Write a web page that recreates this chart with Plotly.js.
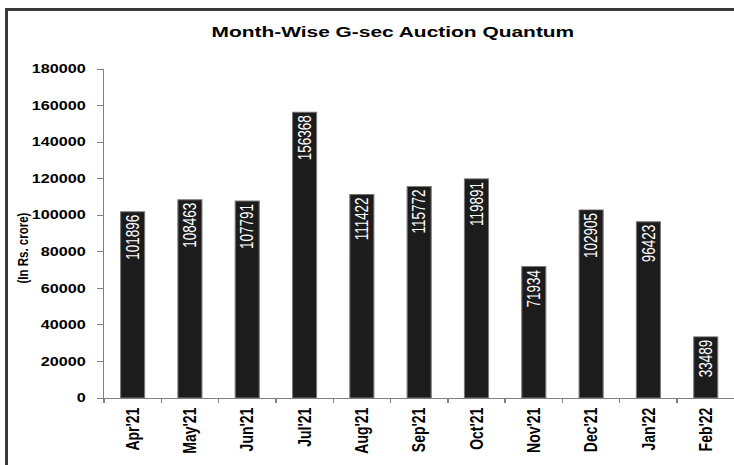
<!DOCTYPE html>
<html>
<head>
<meta charset="utf-8">
<script src="https://cdn.plot.ly/plotly-3.0.1.min.js"></script>
<style>
  html, body { margin: 0; padding: 0; background: #fff; overflow: hidden; width: 734px; height: 465px; }
  #frame { position: absolute; left: 5px; top: 8px; width: 800px; height: 520px;
           border-left: 3px solid #3a3a3a; border-top: 3px solid #3a3a3a; box-sizing: border-box; }
  #chart { position: absolute; left: 0; top: 0; width: 544px; height: 465px;
           transform: scaleX(1.35); transform-origin: 0 0; }
</style>
</head>
<body>
<div id="frame"></div>
<div id="chart"></div>
<script>
const months = ["Apr'21", "May'21", "Jun'21", "Jul'21", "Aug'21", "Sep'21", "Oct'21", "Nov'21", "Dec'21", "Jan'22", "Feb'22"];
const quantum = [101896, 108463, 107791, 156368, 111422, 115772, 119891, 71934, 102905, 96423, 33489];
const yTicks = [0, 20000, 40000, 60000, 80000, 100000, 120000, 140000, 160000, 180000];
const chartTitle = "Month-Wise G-sec Auction Quantum";
const yTitle = "(In Rs. crore)";

const FONT = "Liberation Sans, Arial, sans-serif";

const trace = {
  type: 'bar',
  x: months,
  y: quantum,
  text: quantum.map(String),
  textposition: 'inside',
  insidetextanchor: 'end',
  textangle: -90,
  constraintext: 'none',
  textfont: { family: FONT, size: 13.5, color: '#ffffff' },
  marker: { color: '#1c1c1c', line: { color: '#7a7a7a', width: 0.8 } },
  hoverinfo: 'skip'
};

const layout = {
  width: 544,
  height: 465,
  margin: { l: 77, r: 0, t: 69, b: 67, pad: 0 },
  paper_bgcolor: 'rgba(0,0,0,0)',
  plot_bgcolor: 'rgba(0,0,0,0)',
  showlegend: false,
  bargap: 0.58,
  font: { family: FONT, color: '#000' },
  title: {
    text: chartTitle,
    font: { family: FONT, size: 15.5, weight: 'bold', color: '#000' },
    x: 291 / 544, xref: 'container', xanchor: 'center',
    y: 1 - 32 / 465, yref: 'container', yanchor: 'middle'
  },
  xaxis: {
    type: 'category',
    showgrid: false,
    zeroline: false,
    showline: true,
    linecolor: '#808080',
    linewidth: 1,
    ticks: 'outside',
    tickson: 'boundaries',
    ticklen: 4,
    tickcolor: '#808080',
    tickangle: -90,
    ticklabelstandoff: 3,
    tickfont: { family: FONT, size: 14, weight: 'bold', color: '#000' },
    fixedrange: true
  },
  yaxis: {
    range: [0, 180000],
    tickvals: yTicks,
    ticktext: yTicks.map(String),
    showgrid: false,
    zeroline: false,
    showline: true,
    linecolor: '#808080',
    linewidth: 1,
    ticks: 'outside',
    ticklen: 4,
    tickcolor: '#808080',
    ticklabelstandoff: 6,
    tickfont: { family: FONT, size: 12, weight: 'bold', color: '#000' },
    fixedrange: true
  },
  annotations: [{
    text: yTitle,
    xref: 'paper', yref: 'paper',
    x: (16.5 - 77) / 467, y: (398 - 248) / 329,
    xanchor: 'center', yanchor: 'middle',
    textangle: -90,
    showarrow: false,
    font: { family: FONT, size: 11.5, weight: 'bold', color: '#000' }
  }]
};

Plotly.newPlot('chart', [trace], layout, { displayModeBar: false, staticPlot: true });
</script>
</body>
</html>
